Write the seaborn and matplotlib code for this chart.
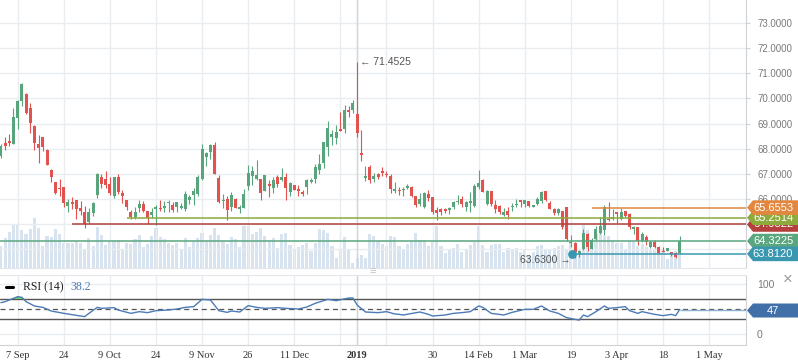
import numpy as np
import matplotlib
matplotlib.use('Agg')
import matplotlib.pyplot as plt
import seaborn as sns
from matplotlib.patches import Polygon
from matplotlib.lines import Line2D
from matplotlib.transforms import blended_transform_factory

sns.set_style('white')
plt.rcParams['font.family'] = ['Liberation Sans', 'DejaVu Sans']

# ---- daily candles (bar index = trading day) ----
opens = [67.71, 68.22, 68.30, 68.20, 69.23, 69.91, 70.18, 69.62, 68.92, 68.18,
         68.46, 67.95, 67.16, 66.67, 66.42, 66.47, 65.73, 65.84, 65.94, 65.63,
         65.48, 65.08, 65.45, 66.14, 66.87, 66.80, 66.60, 66.11, 66.89, 66.22,
         65.96, 65.49, 65.27, 65.64, 65.80, 65.52, 65.37, 65.59, 65.64, 65.64,
         65.82, 65.76, 65.67, 65.63, 65.59, 65.96, 66.14, 66.21, 66.80, 67.65,
         67.85, 68.13, 66.84, 65.90, 66.00, 65.67, 66.00, 65.60, 65.64, 66.50,
         66.90, 66.80, 66.80, 66.30, 66.56, 66.43, 66.89, 66.76, 66.89, 66.26,
         66.55, 66.37, 66.25, 66.46, 66.66, 66.79, 67.15, 67.44, 68.08, 68.48,
         68.41, 68.74, 68.78, 69.50, 69.54, 69.38, 67.77, 66.84, 67.27, 66.80,
         66.99, 67.07, 66.99, 66.93, 66.32, 66.34, 66.34, 66.42, 66.48, 66.10,
         65.80, 65.66, 66.20, 66.07, 65.57, 65.59, 65.61, 65.57, 65.66, 65.86,
         65.99, 65.67, 65.83, 65.70, 66.47, 66.76, 65.80, 66.32, 65.76, 65.73,
         65.38, 65.50, 65.66, 65.74, 65.96, 65.80, 65.90, 65.67, 65.79, 65.90,
         66.30, 65.83, 65.59, 65.45, 65.50, 65.67, 64.24, 64.26, 63.81, 64.00,
         64.61, 64.02, 64.41, 64.64, 64.77, 65.22, 65.19, 65.43, 65.19, 65.50,
         65.41, 64.82, 64.89, 64.33, 64.50, 64.07, 64.30, 64.10, 63.91, 63.93,
         63.87, 63.84, 63.84]
highs = [68.18, 68.45, 68.57, 69.61, 69.94, 70.63, 70.20, 69.83, 68.94, 68.54,
         68.48, 67.97, 67.19, 66.67, 66.79, 66.47, 65.98, 66.07, 65.97, 65.91,
         65.70, 65.63, 65.87, 67.04, 66.99, 67.12, 66.89, 66.87, 67.00, 66.36,
         65.96, 65.57, 65.67, 65.96, 65.92, 65.52, 65.62, 65.75, 65.96, 65.90,
         65.96, 65.86, 65.86, 65.82, 66.30, 66.16, 66.43, 66.95, 68.20, 67.86,
         68.17, 68.27, 66.96, 66.20, 66.10, 66.26, 66.03, 65.74, 66.39, 67.37,
         67.33, 67.56, 66.80, 66.96, 66.76, 66.89, 66.96, 67.23, 67.02, 66.67,
         66.57, 66.55, 66.35, 66.78, 66.82, 67.41, 67.79, 68.28, 69.11, 68.74,
         68.93, 69.46, 69.74, 69.71, 69.94, 71.4525, 68.74, 67.31, 67.37, 67.04,
         67.04, 67.28, 67.13, 67.00, 66.67, 66.47, 66.47, 66.61, 66.50, 66.12,
         66.23, 66.27, 66.36, 66.09, 65.66, 65.63, 65.63, 65.66, 65.92, 66.14,
         66.10, 65.90, 66.26, 66.59, 67.16, 66.79, 66.36, 66.33, 65.96, 65.74,
         65.63, 65.66, 65.83, 65.99, 65.97, 65.95, 65.91, 65.76, 66.06, 66.30,
         66.31, 65.90, 65.63, 65.63, 65.52, 65.68, 64.57, 64.30, 63.95, 64.79,
         64.64, 64.44, 64.94, 65.30, 65.77, 65.86, 65.59, 65.46, 65.62, 65.53,
         65.43, 64.93, 64.90, 64.68, 64.57, 64.34, 64.37, 64.11, 64.10, 64.05,
         63.89, 63.87, 64.53]
lows = [67.64, 67.95, 68.10, 68.18, 68.80, 69.71, 69.39, 68.64, 67.96, 67.44,
        67.92, 67.34, 66.67, 66.19, 66.11, 65.69, 65.49, 65.61, 65.21, 65.36,
        64.85, 65.02, 65.33, 66.03, 66.43, 66.43, 66.16, 66.02, 66.20, 65.85,
        65.54, 65.22, 65.22, 65.46, 65.46, 65.01, 65.23, 64.96, 65.53, 65.49,
        65.49, 65.49, 65.49, 65.59, 65.50, 65.80, 65.77, 66.13, 66.76, 67.32,
        67.59, 67.00, 65.85, 65.64, 65.18, 65.50, 65.62, 65.42, 65.62, 66.34,
        66.55, 66.76, 65.94, 66.30, 66.08, 66.23, 66.46, 66.73, 65.96, 66.13,
        66.35, 66.13, 66.13, 66.21, 66.62, 66.62, 66.98, 67.24, 67.71, 68.14,
        68.18, 68.70, 68.61, 69.27, 69.43, 68.48, 67.51, 66.72, 66.64, 66.68,
        66.80, 66.91, 66.89, 66.23, 66.23, 66.14, 66.10, 66.39, 66.06, 65.67,
        65.70, 65.64, 65.90, 65.39, 65.18, 65.37, 65.43, 65.41, 65.61, 65.80,
        65.67, 65.50, 65.47, 65.66, 66.40, 66.26, 65.75, 65.70, 65.43, 65.41,
        65.33, 65.19, 65.50, 65.66, 65.67, 65.67, 65.67, 65.66, 65.76, 65.83,
        65.93, 65.58, 65.38, 65.38, 64.81, 64.33, 64.10, 63.63, 63.68, 63.95,
        63.91, 64.00, 64.37, 64.61, 64.57, 65.14, 65.17, 65.06, 65.17, 65.30,
        64.82, 64.61, 64.17, 64.30, 64.17, 64.04, 64.05, 63.81, 63.87, 63.91,
        63.73, 63.64, 63.84]
closes = [68.10, 68.10, 68.22, 69.26, 69.90, 70.58, 69.42, 69.03, 68.24, 68.04,
          68.08, 67.36, 66.86, 66.23, 66.38, 65.85, 65.87, 65.81, 65.61, 65.52,
          65.02, 65.46, 65.82, 66.99, 66.60, 66.56, 66.24, 66.87, 66.26, 66.13,
          65.66, 65.29, 65.49, 65.80, 65.50, 65.26, 65.47, 65.68, 65.58, 65.72,
          65.84, 65.56, 65.86, 65.72, 66.20, 66.08, 66.32, 66.88, 67.99, 67.84,
          68.13, 67.01, 65.89, 65.96, 65.54, 66.16, 65.65, 65.62, 66.20, 67.04,
          67.12, 66.96, 66.23, 66.96, 66.53, 66.76, 66.59, 66.89, 66.43, 66.62,
          66.37, 66.33, 66.21, 66.74, 66.75, 67.28, 67.41, 68.25, 68.81, 68.58,
          68.66, 68.71, 69.53, 69.47, 69.82, 68.64, 67.75, 66.87, 66.74, 66.91,
          66.88, 67.04, 66.95, 66.38, 66.36, 66.30, 66.40, 66.52, 66.10, 65.76,
          65.99, 66.24, 66.03, 65.49, 65.42, 65.49, 65.50, 65.59, 65.86, 65.88,
          65.80, 65.86, 65.90, 66.52, 66.65, 66.28, 66.30, 65.79, 65.61, 65.47,
          65.49, 65.37, 65.70, 65.76, 65.88, 65.94, 65.70, 65.74, 65.99, 66.28,
          65.94, 65.61, 65.43, 65.58, 64.87, 64.40, 64.30, 63.87, 63.93, 64.66,
          64.07, 64.37, 64.82, 64.94, 65.66, 65.15, 65.27, 65.41, 65.46, 65.33,
          64.87, 64.89, 64.33, 64.61, 64.30, 64.27, 64.10, 63.84, 63.88, 64.04,
          63.81, 63.67, 64.3225]
# relative volume
volume = [22, 30, 36, 44, 43, 38, 34, 39, 50, 40, 22, 32, 31, 39, 34, 25, 25, 25, 27, 25,
          18, 30, 22, 41, 33, 23, 27, 27, 28, 18, 25, 24, 29, 33, 21, 24, 32, 40, 31, 29,
          25, 23, 25, 19, 30, 21, 27, 30, 35, 27, 33, 40, 33, 27, 24, 31, 29, 21, 42, 42,
          34, 36, 40, 32, 28, 30, 20, 34, 35, 23, 19, 21, 23, 25, 17, 25, 39, 38, 35, 22,
          10, 19, 31, 18, 5, 10, 13, 10, 34, 32, 27, 24, 22, 32, 31, 22, 19, 24, 27, 35,
          28, 28, 22, 26, 42, 22, 15, 19, 20, 24, 16, 18, 23, 27, 42, 23, 16, 23, 24, 24,
          16, 20, 19, 20, 16, 19, 12, 16, 22, 23, 19, 19, 20, 22, 23, 19, 25, 19, 17, 44,
          38, 25, 34, 36, 32, 32, 28, 25, 25, 19, 27, 27, 22, 24, 21, 19, 19, 15, 19, 9,
          14, 17, 19]

# RSI(14) read at bar indices
rsi_idx = [0, 1, 3, 4, 5, 6, 8, 10, 12, 15, 17, 20, 21, 23, 24, 27, 28, 31, 33, 35,
           37, 40, 42, 44, 46, 48, 50, 52, 54, 55, 57, 59, 61, 63, 66, 68, 71, 73, 75, 78,
           80, 83, 84, 85, 87, 90, 92, 94, 95, 96, 100, 102, 103, 106, 108, 110, 112, 114, 115, 117,
           120, 122, 125, 127, 129, 131, 133, 135, 137, 138, 139, 140, 142, 144, 145, 147, 149, 150, 152, 153,
           156, 158, 160, 161, 162]
rsi_val = [62.7, 64.7, 71.3, 74.7, 73.3, 64.7, 56, 53.3, 46, 41.3, 38.7, 34.7, 41.3, 53.3, 51.3, 52.7, 48, 41.3, 44.7, 42.7,
           46.7, 48, 50, 53.3, 54.7, 69.3, 68, 46.7, 43.3, 46, 44, 56.7, 53.3, 51.3, 52.7, 51.3, 50, 54, 61.3, 69.3,
           66.7, 72, 72, 58, 44, 42.7, 44.7, 40, 39.3, 38, 44, 39.3, 36, 38, 41.3, 42.7, 44.7, 56, 53.3, 41.3,
           38, 43.3, 49.3, 49.3, 56, 46, 41.3, 32.7, 29.3, 28, 38, 34.7, 44.7, 56, 51.3, 52.7, 54.7, 46.7, 41.3, 44.7,
           39.3, 36.7, 39.3, 36.7, 49.3]
rsi_tail = 48

# date ticks (bar index of each labelled day)
tick_pos = [4, 15, 26, 37, 48, 59, 70, 85, 103, 114, 125, 136, 147, 158, 169]
tick_labels = ['7 Sep', '24', '9 Oct', '24', '9 Nov', '26', '11 Dec', '2019',
               '30', '14 Feb', '1 Mar', '19', '3 Apr', '18', '1 May']
extra_grid = [81, 92]

# horizontal levels: value, first bar, colour, tag text
level_vals = [64.9822, 65.2514, 65.6553, 64.3225, 63.8120]
level_start = [17, 30, 141, -0.22, 136.3]
level_colors = ['#b3403d', '#8cab3c', '#e2873d', '#5aa67f', '#3a97b0']
level_text = ['64.9822', '65.2514', '65.6553', '64.3225', '63.8120']

GREEN = '#57a47d'
RED = '#e25350'
GRID = '#eaedf0'
X0, X1 = -0.22, 177.8
W, H = 798, 363

fig = plt.figure(figsize=(W / 100, H / 100), dpi=100)
ax = fig.add_axes([0, 1 - 268 / H, 746 / W, 268 / H])
axr = fig.add_axes([0, 1 - 345 / H, 746 / W, 70 / H])
axv = ax.twinx()
ax.set_zorder(2)
axv.set_zorder(1)
ax.patch.set_visible(False)

# volume
idx = np.arange(len(opens))
sns.barplot(x=idx, y=volume, ax=axv, native_scale=True, color='#d7e4f0',
            saturation=1, width=0.75, errorbar=None, linewidth=0)
axv.set_ylim(0, 268)
axv.set_axis_off()

# candles
o, h, l, c = map(np.array, (opens, highs, lows, closes))
col = np.where(c >= o, GREEN, RED)
ax.vlines(idx, l, h, colors=col, lw=0.8, zorder=3)
ax.bar(idx, np.maximum(np.abs(c - o), 0.06), bottom=np.minimum(o, c),
       width=0.72, color=col, lw=0, zorder=4)

# levels
for v, s, cl in zip(level_vals, level_start, level_colors):
    ax.hlines(v, s, X1, colors=cl, lw=1.1, zorder=5)
ax.scatter([level_start[4]], [level_vals[4]], s=40, color=level_colors[4], zorder=6, lw=0)

ax.annotate('\u2190 71.4525', xy=(85, 71.4525), xytext=(2, 0), textcoords='offset points',
            va='center', ha='left', fontsize=7.5, color='#555555')
ax.annotate('63.6300 \u2192', xy=(137, 63.63), xytext=(-3, -1), textcoords='offset points',
            va='center', ha='right', fontsize=7.5, color='#555555')

ax.set_xlim(X0, X1)
ax.set_ylim(63.25, 73.92)
ax.yaxis.tick_right()
yt = list(range(64, 74))
ax.set_yticks(yt)
ax.set_yticklabels([f'{v:.4f}' for v in yt])
ax.tick_params(axis='y', labelsize=7, colors='#7a7a7a', length=3, pad=5)
ax.tick_params(axis='y', color='#cfd3d7')
ax.set_xticks([])
ax.grid(axis='y', color=GRID, lw=1)
for p in tick_pos + extra_grid:
    ax.axvline(p, color=GRID, lw=1, zorder=0)
    axr.axvline(p, color=GRID, lw=1, zorder=0)
ax.axvline(85, color='#d2d5d9', lw=1, zorder=1)
axr.axvline(85, color='#d2d5d9', lw=1, zorder=1)

# RSI pane
axr.set_xlim(X0, X1)
axr.set_ylim(-22, 118)
ri = np.array(rsi_idx)
rv = np.array(rsi_val)
axr.fill_between(ri, rv, 70, where=rv >= 70, interpolate=True, color='#69cf69', lw=0, zorder=3)
axr.fill_between(ri, rv, 30, where=rv <= 30, interpolate=True, color='#e05555', lw=0, zorder=3)
sns.lineplot(x=rsi_idx, y=rsi_val, ax=axr, color='#4c7bb6', lw=1, zorder=4)
axr.hlines(rsi_tail, rsi_idx[-1], X1, colors='#8fb0d6', lw=1, zorder=4)
axr.axhline(70, color='#555555', lw=1, zorder=2)
axr.axhline(30, color='#555555', lw=1, zorder=2)
axr.axhline(50, color='#555555', lw=0.9, ls=(0, (4, 3)), zorder=2)
axr.axhline(100, color=GRID, lw=1, zorder=0)
axr.axhline(0, color=GRID, lw=1, zorder=0)
axr.set_xlabel('')
axr.set_ylabel('')
axr.yaxis.tick_right()
axr.set_yticks([0, 100])
axr.set_yticklabels(['0', '100'])
axr.tick_params(axis='y', labelsize=7.5, colors='#7a7a7a', length=0, pad=8)
axr.set_xticks(tick_pos)
axr.set_xticklabels(tick_labels)
axr.tick_params(axis='x', length=0, pad=4, labelsize=7.5, colors='#333333')
for t in axr.get_xticklabels():
    t.set_family('Liberation Serif')
    if t.get_text() == '2019':
        t.set_fontweight('bold')

for a in (ax, axr):
    a.spines['left'].set_visible(False)
    a.spines['right'].set_color('#cfd3d7')
    a.spines['top'].set_color('#e3e6ea')
    a.spines['bottom'].set_color('#e3e6ea')
ax.spines['top'].set_visible(False)
axr.spines['bottom'].set_color('#cfd3d7')


def price_tag(target, value, text, color, half, z):
    tr = blended_transform_factory(fig.transFigure, target.transData)
    xa, xb = 747 / W, 753 / W
    poly = Polygon([[xa, value], [xb, value + half], [1.0, value + half],
                    [1.0, value - half], [xb, value - half]], closed=True,
                   transform=tr, facecolor=color, edgecolor='none', zorder=z)
    fig.add_artist(poly)
    fig.text(773 / W, value, text, transform=tr, ha='center', va='center',
             color='white', fontsize=8, zorder=z + 0.5)


for k, (v, cl, tx) in enumerate(zip(level_vals, level_colors, level_text)):
    price_tag(ax, v, tx, cl, 0.29, 3 + k)
price_tag(axr, 47, '47', '#4170a8', 14, 9)

# legend of RSI pane and small widgets
fig.add_artist(Line2D([6 / W, 13 / W], [1 - 287 / H, 1 - 287 / H], color='black', lw=2.2))
fig.text(23 / W, 1 - 287 / H, 'RSI (14)', family='Liberation Serif', fontsize=8.5,
         va='center', ha='left', color='#222222')
fig.text(70 / W, 1 - 287 / H, '38.2', family='Liberation Serif', fontsize=8.5,
         va='center', ha='left', color='#4c7bb6')
fig.text(373 / W, 1 - 271 / H, '\u2261', fontsize=8, color='#c4c4c4', ha='center', va='center')
fig.text(788 / W, 1 - 279 / H, '\u00d7', fontsize=12, color='#9a9a9a', ha='center', va='center')

fig.savefig('out.png', dpi=100, facecolor='white')
